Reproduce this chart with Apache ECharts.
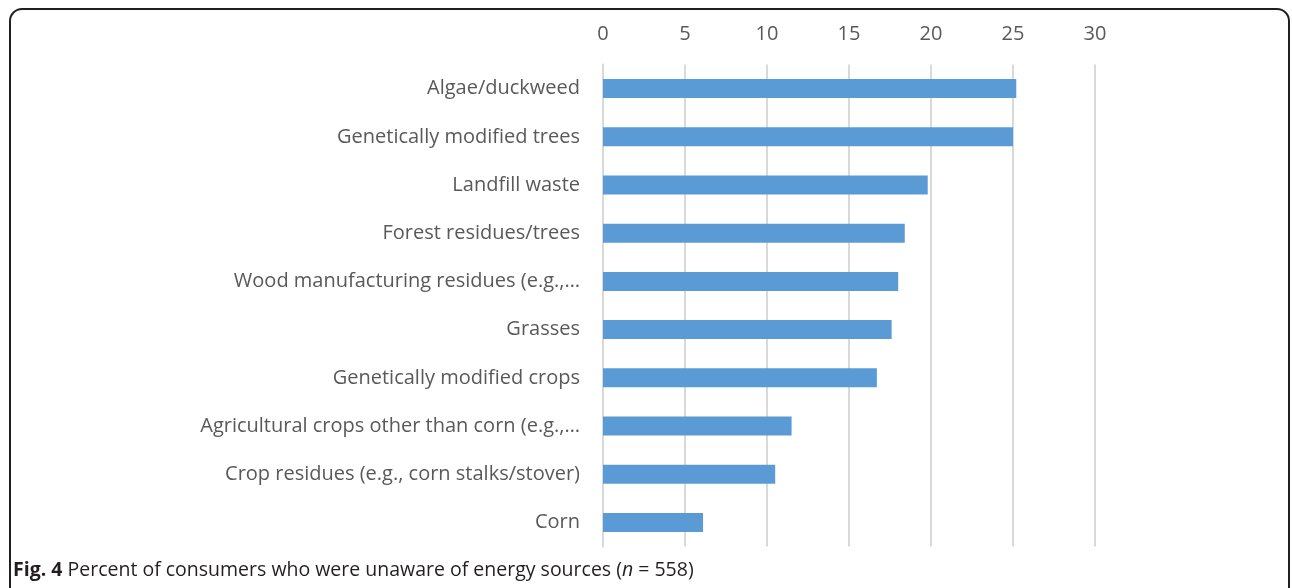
<!DOCTYPE html>
<html>
<head>
<meta charset="utf-8">
<script src="https://cdn.jsdelivr.net/npm/echarts@6/dist/echarts.min.js"></script>
<style>
  html, body { margin: 0; padding: 0; background: #ffffff; }
  #chart { width: 1292px; height: 588px; }
</style>
</head>
<body>
<div id="chart"></div>
<script>
// Energy sources, listed top to bottom
const categories = [
  'Algae/duckweed',
  'Genetically modified trees',
  'Landfill waste',
  'Forest residues/trees',
  'Wood manufacturing residues (e.g.,…',
  'Grasses',
  'Genetically modified crops',
  'Agricultural crops other than corn (e.g.,…',
  'Crop residues (e.g., corn stalks/stover)',
  'Corn'
];
// Percent of consumers unaware of each source
const unawarePercent = [25.2, 25.0, 19.8, 18.4, 18.0, 17.6, 16.7, 11.5, 10.5, 6.1];
const xTicks = [0, 5, 10, 15, 20, 25, 30];

const captionBold = 'Fig. 4';
const captionText = ' Percent of consumers who were unaware of energy sources (';
const captionN = 'n';
const captionTail = ' = 558)';

const chart = echarts.init(document.getElementById('chart'), null, { renderer: 'canvas' });

chart.setOption({
  animation: false,
  backgroundColor: '#ffffff',
  grid: { left: 603, right: 197, top: 64.5, bottom: 41.5, containLabel: false },
  xAxis: {
    type: 'value',
    position: 'top',
    min: xTicks[0],
    max: xTicks[xTicks.length - 1],
    interval: 5,
    axisLine: { show: false },
    axisTick: { show: false },
    axisLabel: {
      color: '#595959',
      fontFamily: 'Open Sans',
      fontSize: 20,
      margin: 20
    },
    splitLine: { show: true, lineStyle: { color: '#d9d9d9', width: 2 } }
  },
  yAxis: {
    type: 'category',
    inverse: true,
    data: categories,
    axisLine: { show: true, lineStyle: { color: '#d9d9d9', width: 2 } },
    axisTick: { show: false },
    axisLabel: {
      color: '#595959',
      fontFamily: 'Open Sans',
      fontSize: 20,
      margin: 23
    }
  },
  series: [{
    type: 'bar',
    data: unawarePercent,
    barWidth: 19,
    itemStyle: { color: '#5b9bd5' },
    silent: true
  }],
  graphic: [
    {
      type: 'rect',
      shape: { x: 10, y: 9, width: 1279, height: 640, r: 12 },
      style: { fill: 'none', stroke: '#231f20', lineWidth: 2 },
      silent: true
    },
    {
      type: 'text',
      left: 13,
      top: 560,
      style: {
        text: '{b|' + captionBold + '}{t|' + captionText + '}{i|' + captionN + '}{t|' + captionTail + '}',
        rich: {
          b: { fontFamily: 'Open Sans', fontWeight: 'bold', fontSize: 19.5, fill: '#231f20' },
          t: { fontFamily: 'Open Sans', fontSize: 19.5, fill: '#231f20' },
          i: { fontFamily: 'Open Sans', fontStyle: 'italic', fontSize: 19.5, fill: '#231f20' }
        }
      },
      silent: true
    }
  ]
});
</script>
</body>
</html>
